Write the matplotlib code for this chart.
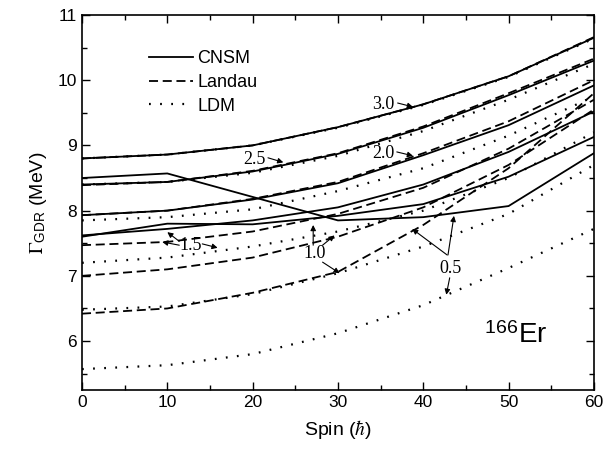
import numpy as np
import matplotlib.pyplot as plt

plt.rcParams['font.family'] = ['Liberation Sans', 'DejaVu Sans']
plt.rcParams['mathtext.fontset'] = 'stix'

spin = [0, 10, 20, 30, 40, 50, 60]
temps = ['0.5', '1.0', '1.5', '2.0', '2.5', '3.0']

# GDR width (MeV) vs spin for each temperature
cnsm = {
    '3.0': [8.80, 8.86, 9.00, 9.28, 9.63, 10.06, 10.65],
    '2.5': [8.40, 8.44, 8.60, 8.87, 9.27, 9.77, 10.30],
    '2.0': [7.93, 8.00, 8.17, 8.42, 8.85, 9.31, 9.92],
    '1.5': [7.62, 7.72, 7.85, 8.05, 8.40, 8.90, 9.52],
    '1.0': [7.60, 7.80, 7.79, 7.92, 8.10, 8.52, 9.13],
    '0.5': [8.50, 8.57, 8.21, 7.85, 7.90, 8.07, 8.88],
}
landau = {
    '3.0': [8.80, 8.86, 9.00, 9.28, 9.63, 10.06, 10.66],
    '2.5': [8.39, 8.44, 8.61, 8.88, 9.29, 9.80, 10.33],
    '2.0': [7.93, 8.00, 8.18, 8.44, 8.88, 9.37, 10.00],
    '1.5': [7.47, 7.52, 7.68, 7.95, 8.35, 8.95, 9.70],
    '1.0': [7.00, 7.10, 7.28, 7.60, 8.05, 8.70, 9.55],
    '0.5': [6.42, 6.50, 6.74, 7.06, 7.78, 8.65, 9.80],
}
ldm = {
    '3.0': [8.80, 8.86, 9.00, 9.27, 9.62, 10.05, 10.64],
    '2.5': [8.40, 8.44, 8.58, 8.84, 9.22, 9.70, 10.25],
    '2.0': [7.85, 7.90, 8.02, 8.30, 8.65, 9.15, 9.75],
    '1.5': [7.20, 7.28, 7.45, 7.68, 8.00, 8.50, 9.20],
    '1.0': [6.48, 6.53, 6.72, 7.04, 7.45, 7.95, 8.70],
    '0.5': [5.57, 5.63, 5.80, 6.12, 6.55, 7.12, 7.72],
}

fig = plt.figure(figsize=(6.06, 4.55), dpi=100)
ax = fig.add_axes([0.1353, 0.1429, 0.8447, 0.8242])

for i, t in enumerate(temps):
    ax.plot(spin, cnsm[t], color='black', lw=1.3, ls='-',
            label='CNSM' if i == 0 else None)
    ax.plot(spin, landau[t], color='black', lw=1.3, ls=(0, (5, 2.6)),
            label='Landau' if i == 0 else None)
    ax.plot(spin, ldm[t], color='black', lw=1.6, ls=(0, (0.8, 4.2)),
            label='LDM' if i == 0 else None)

ax.set_xlim(0, 60)
ax.set_ylim(5.25, 11)
ax.set_xticks(np.arange(0, 61, 10))
ax.set_xticks(np.arange(0, 61, 5), minor=True)
ax.set_yticks(np.arange(6, 11.1, 1))
ax.set_yticks(np.arange(5.5, 11.1, 0.5), minor=True)
ax.tick_params(which='both', direction='in', top=True, right=True,
               labelsize=12.5, width=1)
ax.tick_params(which='major', length=6)
ax.tick_params(which='minor', length=3.5)
for s in ax.spines.values():
    s.set_linewidth(1.2)

ax.set_xlabel(r'Spin ($\hbar$)', fontsize=14, labelpad=6)
ax.set_ylabel(r'$\Gamma_{\mathregular{GDR}}$ (MeV)', fontsize=14, labelpad=6)

leg = ax.legend(loc='upper left', bbox_to_anchor=(0.1, 0.95), frameon=False,
                fontsize=13, handlelength=2.4, handletextpad=0.25,
                labelspacing=0.38)

# temperature labels with arrows
serif = dict(family=['Liberation Serif', 'DejaVu Serif'], fontsize=13)
arrow = dict(arrowstyle='-|>', color='black', lw=0.8,
             mutation_scale=8, shrinkA=0, shrinkB=0)


def label(txt, xy_txt, targets):
    ax.text(*xy_txt, txt, ha='center', va='center', **serif)
    for start, end in targets:
        ax.annotate('', xy=end, xytext=start, arrowprops=arrow)


label('3.0', (35.3, 9.63), [((37.0, 9.65), (38.8, 9.59))])
label('2.5', (20.2, 8.78), [((21.8, 8.81), (23.6, 8.74))])
label('2.0', (35.3, 8.88), [((36.9, 8.90), (38.8, 8.84))])
label('1.5', (12.7, 7.46), [((11.4, 7.53), (10.0, 7.67)),
                            ((11.4, 7.47), (9.4, 7.52)),
                            ((14.1, 7.49), (15.9, 7.43))])
label('1.0', (27.3, 7.35), [((27.1, 7.47), (27.1, 7.78)),
                            ((28.2, 7.47), (29.6, 7.62)),
                            ((28.2, 7.21), (30.2, 7.04))])
label('0.5', (43.2, 7.12), [((42.8, 7.32), (38.7, 7.72)),
                            ((42.9, 7.32), (43.6, 7.92)),
                            ((43.1, 6.97), (42.7, 6.71))])

ax.text(50.8, 6.08, r'$^{\mathregular{166}}$Er', fontsize=20,
        ha='center', va='center')

fig.savefig('out.png', dpi=100)
